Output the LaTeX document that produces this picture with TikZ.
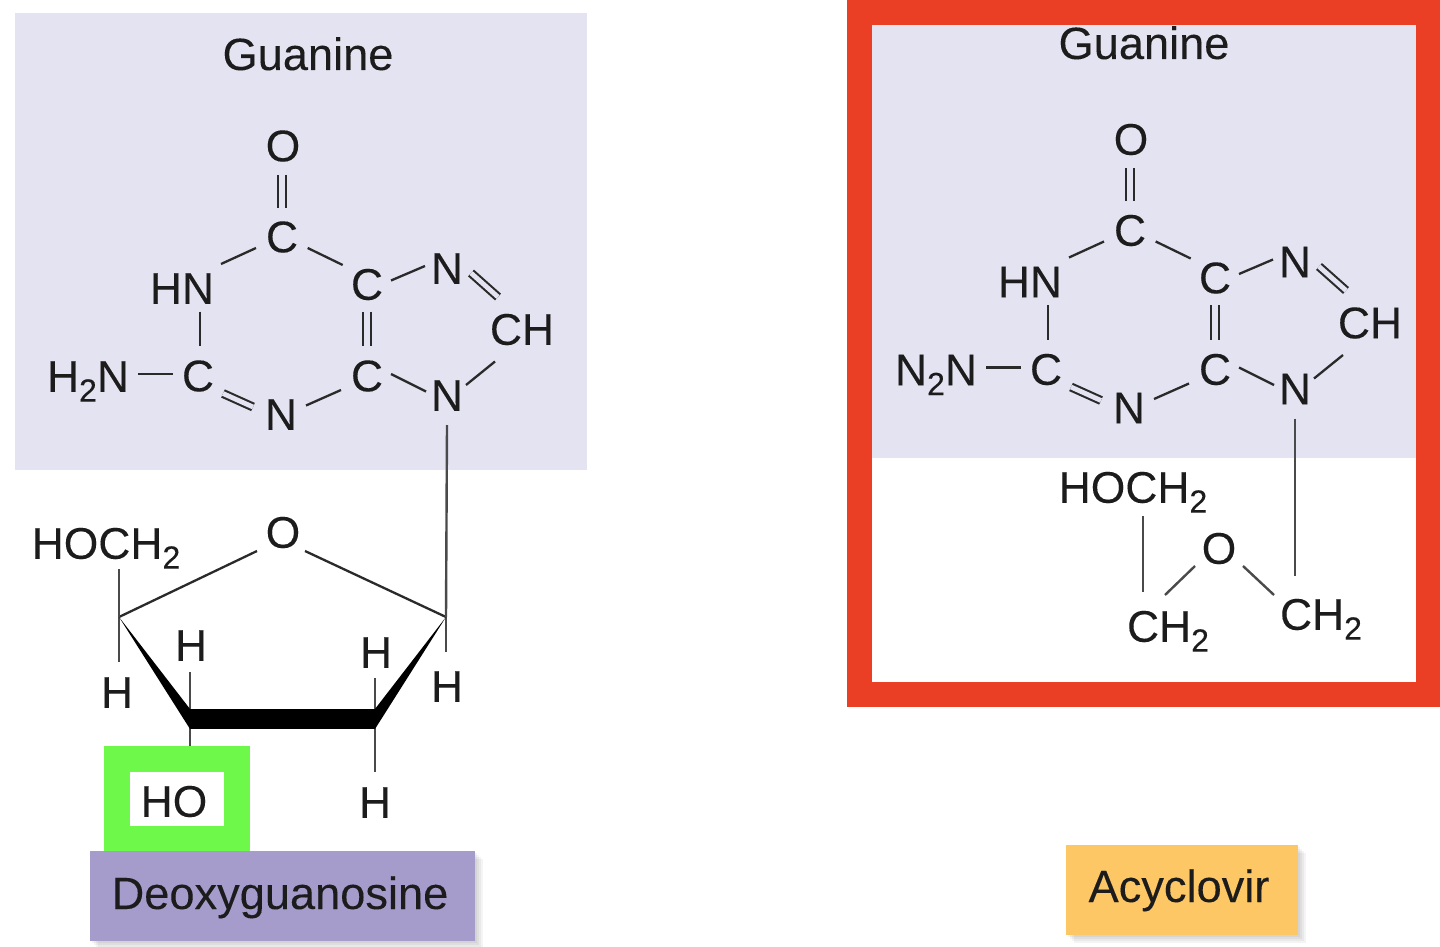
\documentclass[tikz,border=0pt]{standalone}
\usepackage{fontspec}
\setmainfont[FakeBold=0.12]{Liberation Sans}
\usetikzlibrary{calc}
\definecolor{lav}{HTML}{E4E3F1}
\definecolor{redb}{HTML}{EA3F24}
\definecolor{greenb}{HTML}{6EF84A}
\definecolor{purp}{HTML}{A59CCC}
\definecolor{orng}{HTML}{FDC765}
\definecolor{ink}{HTML}{1C1C1C}
\definecolor{bondc}{HTML}{2A2A2A}
\newcommand\lowtwo{\raisebox{-0.22em}{\fontsize{16}{16}\selectfont 2}}
\newcommand\bd[5][]{\draw[bond,#1] ([shift={(#3)}]#2.center) -- ([shift={(#5)}]#4.center);}
\newcommand\softshadow[4]{%
  \fill[shadowbox] (#1+2,#2+2) rectangle (#3+2,#4+2);
  \fill[shadowbox] (#1+4,#2+4) rectangle (#3+4,#4+4);
  \fill[shadowbox] (#1+6,#2+6) rectangle (#3+6,#4+6);
  \fill[shadowbox] (#1+8,#2+8) rectangle (#3+8,#4+8);
}
\newcommand\guaninering[1]{%
  \node[atom] (o) at (283,145.5) {O};
  \node[atom] (c6) at (282,236.5) {C};
  \node[atom] (hn) at (182,288) {HN};
  \node[atom] (c5) at (367,284) {C};
  \node[atom] (n7) at (447,268) {N};
  \node[atom] (ch) at (522,329) {CH};
  \node[atom] (n9) at (447,395) {N};
  \node[atom] (c4) at (367,375.5) {C};
  \node[atom] (n3) at (281,414) {N};
  \node[atom] (c2) at (198,375.5) {C};
  \node[atom] (amino) at (88,376) {#1};
  \bd[dbl]{o}{-1,29}{c6}{0,-29}
  \bd{c6}{-26,11.5}{hn}{39,-24}
  \bd{c6}{25.7,11.5}{c5}{-24.3,-19}
  \bd{c5}{24,-3.5}{n7}{-22,-2}
  \bd[dbl2]{n7}{24,5}{ch}{-24,-32}
  \bd{ch}{-27,32.5}{n9}{19,-10}
  \bd[dbl]{c5}{0,27.5}{c4}{0,-29.5}
  \bd{c4}{24,-1.5}{n9}{-21,-3.5}
  \bd{c4}{-26,14.5}{n3}{25,-8.5}
  \bd[dbl2]{n3}{-28,-7}{c2}{25,18}
  \bd{hn}{18,23.5}{c2}{2,-29.5}
  \bd{amino}{50.4,-2}{c2}{-25,-1.5}
}
\tikzset{
  atom/.style={inner sep=0pt,text=ink,font=\fontsize{22.2}{24}\selectfont,text height=15.8pt,text depth=0pt},
  title/.style={inner sep=0pt,text=ink,font=\fontsize{22.6}{24}\selectfont,text height=16pt,text depth=0pt},
  bond/.style={draw=bondc,line width=1.15pt},
  dbl/.style={double=lav,double distance=3.3pt,line width=1.05pt},
  dbl2/.style={double=lav,double distance=2.4pt,line width=1.05pt},
  sugar/.style={draw=bondc,line width=1.15pt},
  stem/.style={draw=bondc!85!white,line width=1.2pt},
  shadowbox/.style={fill=black,fill opacity=.045,draw=none},
}
\begin{document}
\begin{tikzpicture}[x=0.5pt,y=-0.5pt]
\useasboundingbox (0,0) rectangle (1440,947);
\fill[white] (0,0) rectangle (1440,947);
% left panel
\fill[lav] (15,13) rectangle (587,470);
\node[title] (g1) at (308,54) {Guanine};
\begin{scope}[name prefix=l]
\guaninering{H\lowtwo N}
\end{scope}
% sugar
\node[atom] (so) at (283,532) {O};
\node[atom] (hoch) at (106,543) {HOCH\lowtwo};
\coordinate (v1) at (119,617);
\coordinate (v2) at (190,719);
\coordinate (v3) at (375,719);
\coordinate (v4) at (446,617);
\node[atom] (h1) at (117,692) {H};
\node[atom] (h2) at (191,645) {H};
\node[atom] (h3) at (376,652) {H};
\node[atom] (h4) at (447,686) {H};
\node[atom] (h5) at (375,802) {H};
\node[draw=greenb,fill=white,line width=13pt,minimum width=60.25pt,minimum height=40pt,inner sep=0pt] (hobox) at (177,798.5) {};
\node[atom] (ho) at (174,801) {HO};
\draw[sugar] ([shift={(-26,19)}]so.center) -- (v1);
\draw[sugar] ([shift={(22,19)}]so.center) -- (v4);
\draw[stem] ([shift={(0,30)}]ln9.center) -- (v4);
\draw[stem] (v1 |- hoch.south) ++(0,10) -- (v1) -- ++(0,45);
\draw[stem] (v2) -- (v2 |- hobox.north);
\draw[stem] (v2) -- ++(0,-47);
\draw[stem] (v3) -- ++(0,-41);
\draw[stem] (v3) -- ++(0,53);
\draw[stem] (v4) -- ++(0,35);
\fill[black] (v1) -- ([yshift=5pt]v2) -- ([yshift=-5pt]v2) -- cycle;
\fill[black] (v4) -- ([yshift=-5pt]v3) -- ([yshift=5pt]v3) -- cycle;
\draw[black,line width=10pt] (v2) -- (v3);
% deoxyguanosine label
\softshadow{90}{851}{475}{941}
\node[fill=purp,minimum width=192.5pt,minimum height=45pt,inner sep=0pt] (dbox) at (282.5,896) {};
\node[title] (dg) at (280,893) {Deoxyguanosine};
% right panel
\fill[lav] (872,25) rectangle (1416,458);
\node[title] (g2) at (1144,43) {Guanine};
\begin{scope}[shift={(848,-6.5)},name prefix=r]
\guaninering{N\lowtwo N}
\end{scope}
\node[atom] (rho) at (1133,487) {HOCH\lowtwo};
\node[atom] (ro) at (1219,548) {O};
\node[atom] (rc1) at (1168,626) {CH\lowtwo};
\node[atom] (rc2) at (1321,614) {CH\lowtwo};
\draw[stem] ([shift={(10,29)}]rho.center) -- ([shift={(-25,-34)}]rc1.center);
\draw[stem] ([shift={(-24,18)}]ro.center) -- ([shift={(-3,-31)}]rc1.center);
\draw[stem] ([shift={(24,18)}]ro.center) -- ([shift={(-47,-19)}]rc2.center);
\draw[stem] ([shift={(0,30)}]rn9.center) -- ([shift={(-26,-38)}]rc2.center);
\draw[redb,line width=12.5pt] (859.5,12.5) rectangle (1428,694.5);
\fill[redb] (1416,0) rectangle (1440,707);
% acyclovir label
\softshadow{1066}{845}{1298}{935}
\node[fill=orng,minimum width=116pt,minimum height=45pt,inner sep=0pt] (abox) at (1182,890) {};
\node[title] (ac) at (1179,886) {Acyclovir};
\end{tikzpicture}
\end{document}
